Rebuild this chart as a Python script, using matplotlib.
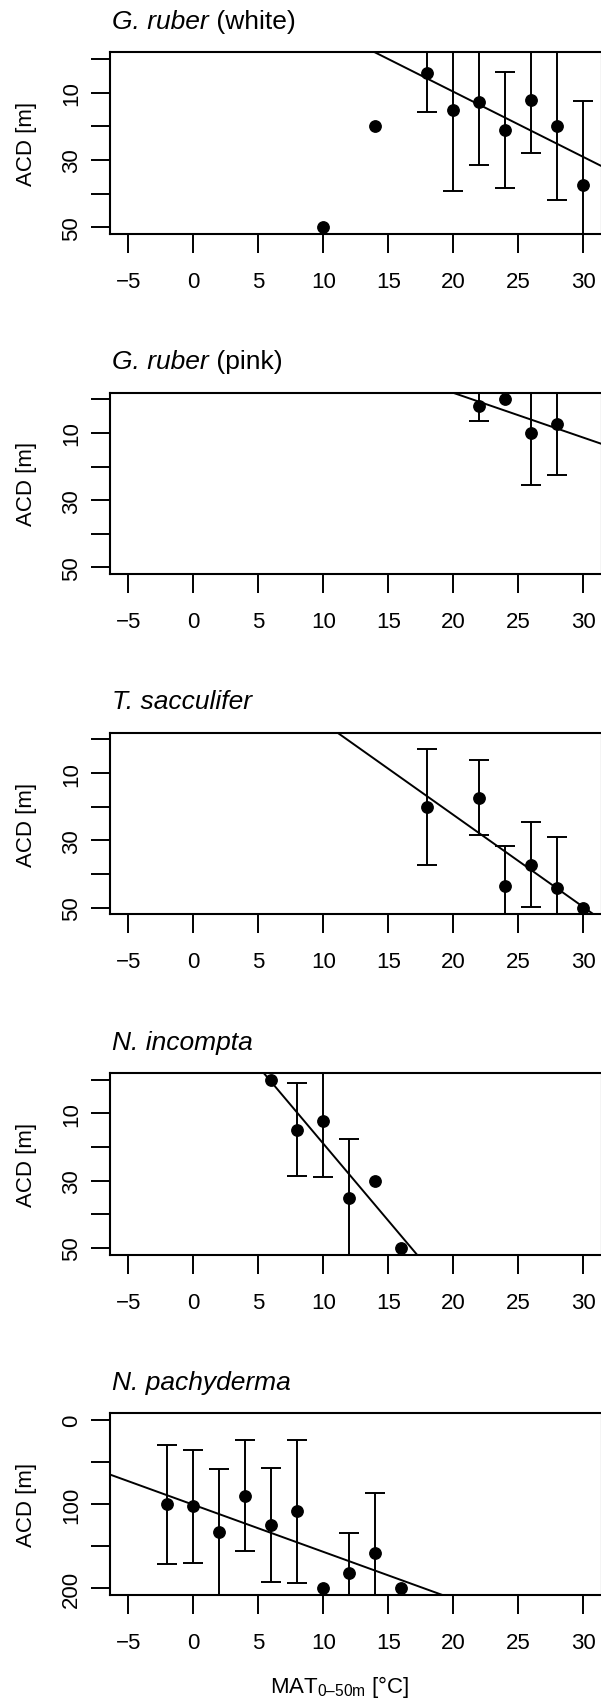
import numpy as np
import matplotlib
matplotlib.use("Agg")
import matplotlib.pyplot as plt

plt.rcParams['font.family'] = ['Liberation Sans', 'DejaVu Sans']
plt.rcParams['mathtext.fontset'] = 'custom'
plt.rcParams['mathtext.rm'] = 'Liberation Sans'
plt.rcParams['mathtext.it'] = 'Liberation Sans:italic'

# === Data (mean ACD +/- sd per temperature bin) ===
nan = np.nan

# G. ruber (white)
temp_white = [10, 14, 18, 20, 22, 24, 26, 28, 30]
acd_white = [50, 20, 4.3, 15, 12.7, 21.1, 12.1, 19.8, 37.5]
sd_white = [nan, nan, 11.4, 24.2, 18.7, 17.3, 15.8, 22, 25]
fit_white = (-29.1, 1.94)          # intercept, slope

# G. ruber (pink)
temp_pink = [22, 24, 26, 28]
acd_pink = [2.0, 0, 10.1, 7.5]
sd_pink = [4.5, nan, 15.3, 15.0]
fit_pink = (-28.5, 1.33)

# T. sacculifer
temp_sacc = [18, 22, 24, 26, 28, 30]
acd_sacc = [20.05, 17.3, 43.5, 37.2, 44.3, 50]
sd_sacc = [17.3, 11.1, 11.7, 12.55, 15.2, nan]
fit_sacc = (-32.4, 2.74)

# N. incompta
temp_inc = [6, 8, 10, 12, 14, 16]
acd_inc = [0, 14.85, 12.2, 35.1, 30.1, 50]
sd_inc = [nan, 13.75, 16.7, 17.6, nan, nan]
fit_inc = (-26.8, 4.58)

# N. pachyderma
temp_pac = [-2, 0, 2, 4, 6, 8, 10, 12, 14, 16]
acd_pac = [100.6, 102.6, 133.3, 90.3, 124.5, 108.9, 200, 182.1, 158.3, 200]
sd_pac = [71.2, 67.2, 75.3, 66.0, 67.7, 85.1, nan, 47, 71.8, nan]
fit_pac = (100.9, 5.6)

species = ['G. ruber', 'G. ruber', 'T. sacculifer', 'N. incompta', 'N. pachyderma']
variant = [' (white)', ' (pink)', '', '', '']

xticks = [-5, 0, 5, 10, 15, 20, 25, 30]
yticks_small = [0, 10, 20, 30, 40, 50]
ylabels_small = ['', '10', '', '30', '', '50']
yticks_big = [0, 50, 100, 150, 200]
ylabels_big = ['0', '', '100', '', '200']

panels = [
    (temp_white, acd_white, sd_white, fit_white, yticks_small, ylabels_small),
    (temp_pink, acd_pink, sd_pink, fit_pink, yticks_small, ylabels_small),
    (temp_sacc, acd_sacc, sd_sacc, fit_sacc, yticks_small, ylabels_small),
    (temp_inc, acd_inc, sd_inc, fit_inc, yticks_small, ylabels_small),
    (temp_pac, acd_pac, sd_pac, fit_pac, yticks_big, ylabels_big),
]

# === Layout (pixel based, 601 x 1708) ===
W, H = 601, 1708
fig = plt.figure(figsize=(W / 100, H / 100), dpi=100)
fs = 16
fs_title = 19
box_left, box_right = 110, 601.5
box_h = 181.7

for i, (t, v, sd, fit, yt, yl) in enumerate(panels):
    top = 53.3 + 340.2 * i
    ax = fig.add_axes([box_left / W, 1 - (top + box_h) / H,
                       (box_right - box_left) / W, box_h / H])

    ax.errorbar(t, v, yerr=sd, fmt='o', color='black', ms=8.2,
                elinewidth=1.4, capsize=7.2, capthick=1.4)
    ax.axline((0, fit[0]), slope=fit[1], color='black', lw=1.4)

    ax.set_xlim(-6.4, 31.4)
    pad = 0.04 * (yt[-1] - yt[0])
    ax.set_ylim(yt[-1] + pad, yt[0] - pad)

    ax.set_xticks(xticks)
    ax.set_yticks(yt)
    ax.set_yticklabels(yl, rotation=90, va='center')
    ax.tick_params(direction='out', length=13.7, width=1.4, labelsize=fs)
    ax.tick_params(axis='x', pad=13)
    ax.tick_params(axis='y', pad=6.5)
    for s in ax.spines.values():
        s.set_linewidth(1.5)

    ax.set_ylabel('ACD [m]', fontsize=fs, va='center')
    ax.yaxis.set_label_coords(-(box_left - 26.7) / (box_right - box_left), 0.5)

    # title: italic species name followed by upright variant
    t1 = fig.text(112 / W, 1 - (top - 31.3) / H, species[i], style='italic',
                  ha='left', va='center', fontsize=fs_title)
    if variant[i]:
        ax.annotate(variant[i], xy=(1, 0), xycoords=t1, ha='left', va='bottom',
                    fontsize=fs_title, annotation_clip=False)

fig.text(340 / W, 1 - 1686.7 / H, 'MAT$_{\\mathregular{0\u201350m}}$ [°C]',
         ha='center', va='center', fontsize=fs)

plt.savefig('out.png', dpi=100)
